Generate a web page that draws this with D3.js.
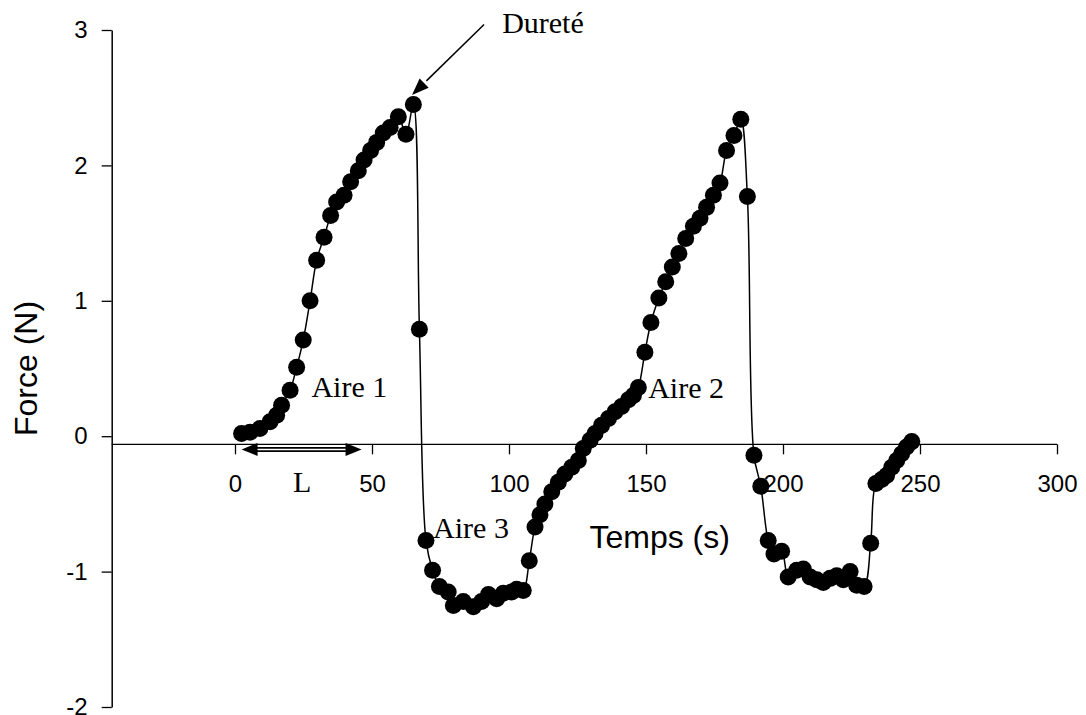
<!DOCTYPE html>
<html>
<head>
<meta charset="utf-8">
<script src="https://cdn.jsdelivr.net/npm/d3@7"></script>
<style>
  body { margin: 0; background: #fff; }
  svg { display: block; }
</style>
</head>
<body>
<svg id="chart" width="1086" height="715"></svg>
<script>
// time (s) and force (N)
const temps = [
  2.4, 5.5, 9.1, 12.8, 15.2, 17.0, 20.1, 22.5, 24.9, 27.4, 29.8, 32.5, 34.9, 37.1,
  39.8, 42.2, 45.0, 47.1, 49.5, 51.7, 54.1, 56.6, 59.6, 62.4, 65.1, 67.3,
  69.7, 72.1, 74.6, 77.8, 79.7, 83.3, 87.0, 90.0, 92.5, 95.5, 97.9, 101.0, 102.8, 105.2,
  107.4, 109.5, 111.3, 113.1, 115.6, 118.0, 120.4, 122.9, 125.3, 127.1, 129.6, 131.4,
  133.8, 136.3, 138.7, 141.1, 143.6, 145.4, 147.2,
  149.6, 151.8, 154.7, 157.2, 159.6, 162.0, 164.5, 167.3, 169.7, 172.1, 174.6, 177.0,
  179.4, 182.1, 184.6, 187.0, 189.4,
  191.9, 194.6, 196.7, 199.5, 201.9, 205.0, 207.4, 209.9, 212.3, 214.7, 217.2, 219.6,
  222.0, 224.5, 226.9, 229.6, 232.0, 233.9, 236.0, 237.8, 239.7, 241.5, 243.3, 245.1, 247.0
];
const force = [
  0.02, 0.03, 0.057, 0.106, 0.155, 0.229, 0.34, 0.51, 0.71, 1.00, 1.30, 1.47, 1.63, 1.73,
  1.78, 1.88, 1.96, 2.04, 2.11, 2.17, 2.24, 2.28, 2.36, 2.23, 2.45, 0.79,
  -0.77, -0.99, -1.11, -1.15, -1.25, -1.22, -1.26, -1.22, -1.17, -1.20, -1.16, -1.15, -1.13, -1.14,
  -0.92, -0.67, -0.58, -0.50, -0.41, -0.34, -0.28, -0.23, -0.18, -0.09, -0.03, 0.02,
  0.08, 0.13, 0.18, 0.22, 0.27, 0.30, 0.36,
  0.62, 0.84, 1.02, 1.14, 1.25, 1.35, 1.46, 1.55, 1.61, 1.69, 1.78, 1.87,
  2.11, 2.22, 2.34, 1.77, -0.14,
  -0.37, -0.77, -0.87, -0.85, -1.04, -0.99, -0.98, -1.04, -1.06, -1.08, -1.05, -1.03,
  -1.06, -1.00, -1.10, -1.11, -0.79, -0.35, -0.32, -0.29, -0.23, -0.18, -0.13, -0.08, -0.04
];

const xTicks = [0, 50, 100, 150, 200, 250, 300];
const yTicks = [-2, -1, 0, 1, 2, 3];

const points = temps.map((t, i) => ({ t: t, f: force[i] }));

const svg = d3.select("#chart");
const sans = "'Liberation Sans', Arial, sans-serif";
const serif = "'Liberation Serif', 'Times New Roman', serif";

const x = d3.scaleLinear().domain([0, 300]).range([235, 1057]);
const y = d3.scaleLinear().domain([-2, 3]).range([707, 30]);

// the value axis sits left of t = 0, the time axis just under F = 0
const yAxisAt = -45;
const xAxisAt = -0.06;

// plain hyphen for negatives, like the original
const fmt = d => String(d);

// y axis
const gy = svg.append("g")
    .attr("transform", "translate(" + x(yAxisAt) + ",0)")
    .call(d3.axisLeft(y).tickValues(yTicks).tickFormat(fmt)
      .tickSize(10).tickSizeOuter(0).tickPadding(14));
gy.select(".domain").attr("stroke-width", 1.5);
gy.selectAll(".tick line").attr("stroke-width", 1.3);
gy.selectAll("text").style("font-family", sans).style("font-size", "24px").attr("fill", "#000");

// x axis, its line runs from the y axis to the last tick
const gx = svg.append("g")
    .attr("transform", "translate(0," + y(xAxisAt) + ")")
    .call(d3.axisBottom(x).tickValues(xTicks).tickFormat(fmt)
      .tickSize(10).tickSizeOuter(0).tickPadding(21));
gx.select(".domain").remove();
gx.append("line")
    .attr("x1", x(yAxisAt)).attr("x2", x(300))
    .attr("stroke", "#000").attr("stroke-width", 1.3);
gx.selectAll(".tick line").attr("stroke-width", 1.3);
gx.selectAll("text").style("font-family", sans).style("font-size", "24px").attr("fill", "#000");

// curve and markers
const line = d3.line()
    .x(d => x(d.t))
    .y(d => y(d.f))
    .curve(d3.curveCatmullRom.alpha(0.5));

svg.append("path")
    .datum(points)
    .attr("d", line)
    .attr("fill", "none")
    .attr("stroke", "#000")
    .attr("stroke-width", 1.5);

svg.append("g").selectAll("circle")
    .data(points)
    .join("circle")
    .attr("cx", d => x(d.t))
    .attr("cy", d => y(d.f))
    .attr("r", 8.5)
    .attr("fill", "#000");

// axis titles
svg.append("text")
    .attr("transform", "translate(37," + y(0.5) + ") rotate(-90)")
    .attr("text-anchor", "middle")
    .style("font-family", sans).style("font-size", "32px")
    .text("Force (N)");

svg.append("text")
    .attr("x", x(155)).attr("y", 548)
    .attr("text-anchor", "middle")
    .style("font-family", sans).style("font-size", "32px")
    .text("Temps (s)");

// annotations
function arrowHead(tipX, tipY, fromX, fromY, len, half) {
  const a = Math.atan2(tipY - fromY, tipX - fromX);
  const bx = tipX - len * Math.cos(a), by = tipY - len * Math.sin(a);
  const px = -Math.sin(a) * half, py = Math.cos(a) * half;
  return [[tipX, tipY], [bx + px, by + py], [bx - px, by - py]].join(" ");
}

const notes = [
  { text: "Aire 1", t: 27.9, f: 0.29 },
  { text: "Aire 2", t: 150.8, f: 0.28 },
  { text: "Aire 3", t: 72.3, f: -0.75 },
  { text: "Dureté", t: 97.5, f: 2.98 }
];
svg.append("g").selectAll("text")
    .data(notes)
    .join("text")
    .attr("x", d => x(d.t))
    .attr("y", d => y(d.f))
    .style("font-family", serif).style("font-size", "30px")
    .text(d => d.text);

// arrow pointing at the first peak
const dx1 = x(90.9), dy1 = y(3.04), dx2 = x(64.6), dy2 = y(2.52);
svg.append("line")
    .attr("x1", dx1).attr("y1", dy1)
    .attr("x2", dx1 + (dx2 - dx1) * 0.8).attr("y2", dy1 + (dy2 - dy1) * 0.8)
    .attr("stroke", "#000").attr("stroke-width", 1.5);
svg.append("polygon")
    .attr("points", arrowHead(dx2, dy2, dx1, dy1, 17, 6.5))
    .attr("fill", "#000");

// double arrow L
const lx1 = x(2.4), lx2 = x(46.2), ly = y(-0.098);
svg.append("line")
    .attr("x1", lx1 + 12).attr("x2", lx2 - 12).attr("y1", ly).attr("y2", ly)
    .attr("stroke", "#000").attr("stroke-width", 5);
svg.append("line")
    .attr("x1", lx1 + 12).attr("x2", lx2 - 12).attr("y1", ly).attr("y2", ly)
    .attr("stroke", "#fff").attr("stroke-width", 1.4);
svg.append("polygon").attr("points", arrowHead(lx1, ly, lx2, ly, 16, 6.5)).attr("fill", "#000");
svg.append("polygon").attr("points", arrowHead(lx2, ly, lx1, ly, 16, 6.5)).attr("fill", "#000");

svg.append("text")
    .attr("x", x(24.5)).attr("y", 492)
    .attr("text-anchor", "middle")
    .style("font-family", serif).style("font-size", "30px")
    .text("L");
</script>
</body>
</html>
